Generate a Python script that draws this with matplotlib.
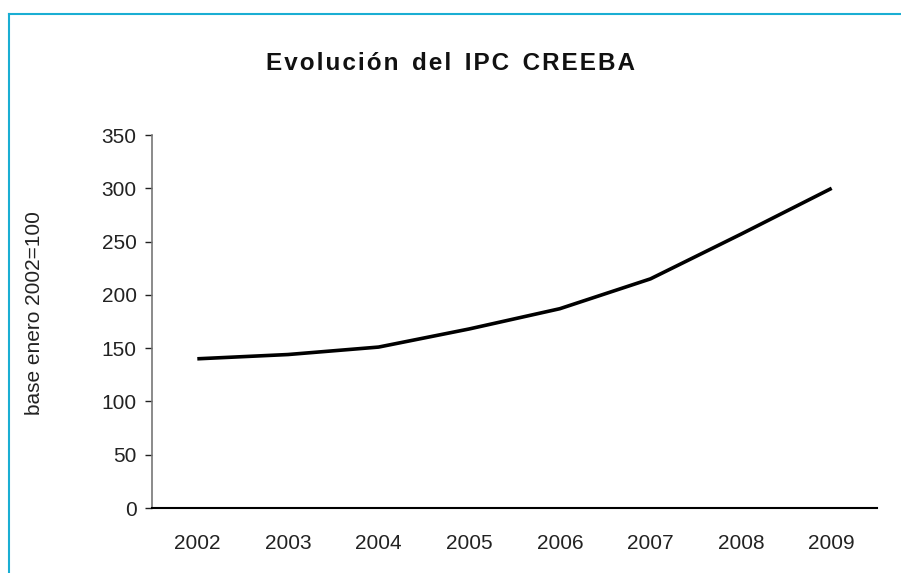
import matplotlib
matplotlib.use("Agg")
import matplotlib.pyplot as plt
from matplotlib.lines import Line2D

years = ["2002", "2003", "2004", "2005", "2006", "2007", "2008", "2009"]
ipc = [140, 144, 151, 168, 187, 215, 257, 300]
yticks = [0, 50, 100, 150, 200, 250, 300, 350]

plt.rcParams["font.family"] = ["Liberation Sans", "DejaVu Sans"]

fig = plt.figure(figsize=(9.01, 5.73), dpi=100)
ax = fig.add_axes([152/901, 1-508/573, 725/901, 373/573])

x = list(range(len(years)))
ax.plot(x, ipc, color="black", lw=2.6, solid_capstyle="butt")

ax.set_xlim(-0.5, len(years)-0.5)
ax.set_ylim(0, 350)
ax.set_xticks(x)
ax.set_xticklabels(years)
ax.set_yticks(yticks)
ax.tick_params(axis="x", length=0, pad=19, labelsize=15, colors="#222222")
ax.tick_params(axis="y", length=5, width=1, pad=6, labelsize=15, colors="#222222")

for s in ["top", "right"]:
    ax.spines[s].set_visible(False)
ax.spines["left"].set_color("#777777")
ax.spines["left"].set_linewidth(1.2)
ax.spines["bottom"].set_color("black")
ax.spines["bottom"].set_linewidth(1.5)

fig.text(35/901, 1-313/573, "base enero 2002=100", rotation=90, ha="center", va="center",
         fontsize=15, color="#222222")

fig.text(450/901, 1-63/573, "E v o l u c i ó n   d e l   I P C   C R E E B A".replace(" ", "\u200a").replace("\u200a\u200a\u200a", "  "),
         ha="center", va="center", fontsize=17.5, fontweight="bold", color="#111111")

# cyan frame
fr = "#1aaed3"
fig.add_artist(Line2D([9/901, 1], [1-14/573, 1-14/573], color=fr, lw=1.5, transform=fig.transFigure))
fig.add_artist(Line2D([9/901, 9/901], [0, 1-14/573], color=fr, lw=1.5, transform=fig.transFigure))

fig.savefig("out.png", dpi=100)
